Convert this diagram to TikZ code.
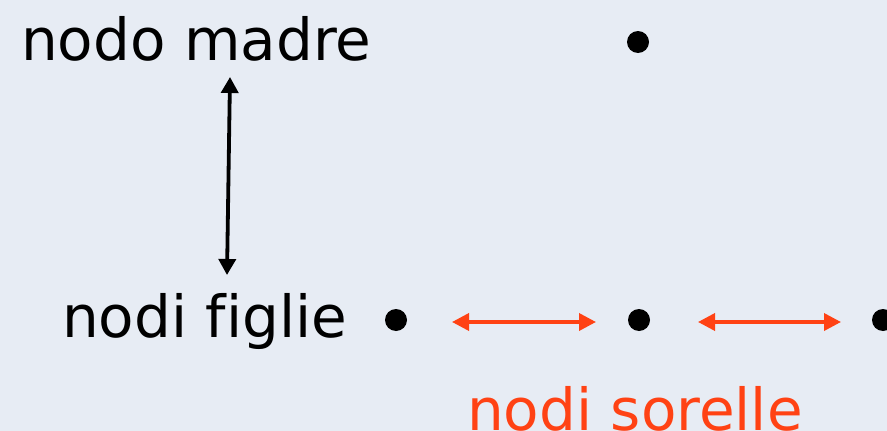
\documentclass[tikz,border=0pt]{standalone}
\usepackage{fontspec}
\setmainfont[Ligatures=NoCommon]{DejaVu Sans}
\usetikzlibrary{arrows.meta}
\definecolor{paper}{RGB}{231,236,244}
\definecolor{sister}{RGB}{255,66,20}
\tikzset{
  label text/.style={anchor=base west, inner sep=0pt, font=\fontsize{58}{70}\selectfont},
  dot/.style={circle, fill=black, inner sep=0pt, minimum size=22pt},
  parentlink/.style={line width=3.8pt, {Triangle[length=16pt,width=17pt]}-{Triangle[length=16pt,width=17pt]}},
  siblinglink/.style={sister, line width=3.6pt, {Triangle[length=17pt,width=17pt]}-{Triangle[length=17pt,width=17pt]}}
}
\begin{document}
\begin{tikzpicture}[x=1pt, y=-1pt]
  % background sheet
  \fill[paper] (0,0) rectangle (887,431);
  \useasboundingbox (0,0) rectangle (887,431);

  % labels
  \node[label text] (madre) at (21,60) {nodo madre};
  \node[label text] (figlie) at (62,337) {nodi figlie};
  \node[label text, text=sister] (sorelle) at (467,430) {nodi sorelle};

  % tree nodes
  \node[dot] (root) at (638,42) {};
  \node[dot] (c1) at (396,320) {};
  \node[dot] (c2) at (639,320) {};
  \node[dot] (c3) at (883,320) {};

  % arrow ends
  \coordinate (pa) at (230,77);
  \coordinate (pb) at (227,275);
  \coordinate (s1a) at (452,322);
  \coordinate (s1b) at (596,322);
  \coordinate (s2a) at (698,322);
  \coordinate (s2b) at (841,322);

  % parent-child relation
  \draw[parentlink] (pa) -- (pb);
  % sibling relations
  \draw[siblinglink] (s1a) -- (s1b);
  \draw[siblinglink] (s2a) -- (s2b);
\end{tikzpicture}
\end{document}
